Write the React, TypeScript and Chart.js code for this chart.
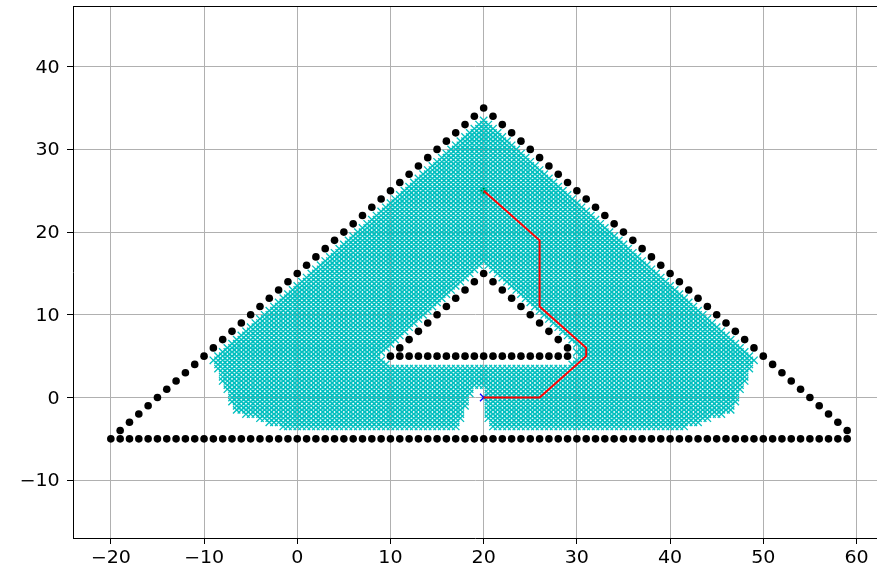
import { useEffect, useRef } from 'react';
import { Chart, registerables } from 'chart.js';

Chart.register(...registerables);

// ---- axis ----
const xTickValues = [-20, -10, 0, 10, 20, 30, 40, 50, 60];
const yTickValues = [-10, 0, 10, 20, 30, 40];
const xMin = -24.06;
const xMax = 62.2;
const yMin = -16.99;
const yMax = 47.34;

// ---- obstacles: straight runs of points at unit spacing [x0, y0, x1, y1] ----
const obstacleSegments = [
  [-20, -5, 59, -5],
  [-19, -4, 20, 35],
  [21, 34, 59, -4],
  [10, 5, 29, 5],
  [11, 6, 20, 15],
  [21, 14, 29, 6],
];
const obstacleStep = 1;

// ---- start / goal / path ----
const startX = [20];
const startY = [25];
const goalX = [20];
const goalY = [0];
const pathX = [20, 26, 31, 31, 26, 26, 20];
const pathY = [0, 0, 5, 6, 11, 19, 25];

// ---- explored (closed set) nodes: per row y, spans [xStart, xEnd, ...] on a 0.5 grid ----
const gridStep = 0.5;
const closedRowY = [
  33.5, 33, 32.5, 32, 31.5, 31, 30.5, 30, 29.5, 29, 28.5, 28, 27.5, 27, 26.5, 26,
  25.5, 25, 24.5, 24, 23.5, 23, 22.5, 22, 21.5, 21, 20.5, 20, 19.5, 19, 18.5, 18,
  17.5, 17, 16.5, 16, 15.5, 15, 14.5, 14, 13.5, 13, 12.5, 12, 11.5, 11, 10.5, 10,
  9.5, 9, 8.5, 8, 7.5, 7, 6.5, 6, 5.5, 5, 4.5, 4, 3.5, 3, 2.5, 2, 1.5, 1, 0.5, 0,
  -0.5, -1, -1.5, -2, -2.5, -3, -3.5,
];
const closedRowSpans = [
  [20, 20], [19.5, 20.5], [19, 21], [18.5, 21.5], [18, 22], [17.5, 22.5], [17, 23], [16.5, 23.5],
  [16, 24], [15.5, 24.5], [15, 25], [14.5, 25.5], [14, 26], [13.5, 26.5], [13, 27], [12.5, 27.5],
  [12, 28], [11.5, 28.5], [11, 29], [10.5, 29.5], [10, 30], [9.5, 30.5], [9, 31], [8.5, 31.5],
  [8, 32], [7.5, 32.5], [7, 33], [6.5, 33.5], [6, 34], [5.5, 34.5], [5, 35], [4.5, 35.5],
  [4, 36], [3.5, 36.5], [3, 37],
  [2.5, 19.5, 20.5, 37.5], [2, 19, 21, 38], [1.5, 18.5, 21.5, 38.5], [1, 18, 22, 39],
  [0.5, 17.5, 22.5, 39.5], [0, 17, 23, 40], [-0.5, 16.5, 23.5, 40.5], [-1, 16, 24, 41],
  [-1.5, 15.5, 24.5, 41.5], [-2, 15, 25, 42], [-2.5, 14.5, 25.5, 42.5], [-3, 14, 26, 43],
  [-3.5, 13.5, 26.5, 43.5], [-4, 13, 27, 44], [-4.5, 12.5, 27.5, 44.5], [-5, 12, 28, 45],
  [-5.5, 11.5, 28.5, 45.5], [-6, 11, 29, 46], [-6.5, 10.5, 29.5, 46.5], [-7, 10, 30, 47],
  [-7.5, 9.5, 30.5, 47.5], [-8, 9, 30, 48], [-8.5, 8.5, 30.5, 48.5], [-9, 9, 30, 49],
  [-8.5, 9.5, 29.5, 48.5],
  [-8.5, 48.5], [-8, 48], [-8, 48], [-8, 48], [-7.5, 47.5],
  [-7.5, 18.5, 20.5, 47.5], [-7, 18.5, 20.5, 47], [-7, 18, 20.5, 47], [-7, 18, 20.5, 47],
  [-6.5, 18, 20.5, 46.5], [-6.5, 17.5, 20.5, 46.5], [-5.5, 17.5, 20.5, 45.5],
  [-4, 17.5, 20.5, 44], [-3, 17, 21, 43], [-1.5, 17, 21, 41.5],
];

function buildObstacles() {
  const pts: { x: number; y: number }[] = [];
  for (const [x0, y0, x1, y1] of obstacleSegments) {
    const n = Math.round(Math.max(Math.abs(x1 - x0), Math.abs(y1 - y0)) / obstacleStep);
    const sx = n ? (x1 - x0) / n : 0;
    const sy = n ? (y1 - y0) / n : 0;
    for (let i = 0; i <= n; i++) pts.push({ x: x0 + sx * i, y: y0 + sy * i });
  }
  return pts;
}

function buildClosed() {
  const pts: { x: number; y: number }[] = [];
  closedRowY.forEach((y, r) => {
    const spans = closedRowSpans[r];
    for (let s = 0; s < spans.length; s += 2) {
      const a = spans[s];
      const b = spans[s + 1];
      const n = Math.round((b - a) / gridStep);
      for (let i = 0; i <= n; i++) pts.push({ x: a + i * gridStep, y });
    }
  });
  return pts;
}

const fmt = (v: number) => (v < 0 ? '\u2212' + Math.abs(v) : String(v));

const frameAndLabels = {
  id: 'frameAndLabels',
  afterDraw(chart: any) {
    const { ctx, chartArea } = chart;
    ctx.save();
    ctx.strokeStyle = '#000';
    ctx.lineWidth = 1;
    const t = Math.round(chartArea.top) + 0.5;
    ctx.beginPath();
    ctx.moveTo(chartArea.left, t);
    ctx.lineTo(chartArea.right, t);
    ctx.stroke();

    ctx.fillStyle = '#000';
    ctx.font = '13.9px "DejaVu Sans"';
    const xs = chart.scales.x;
    const ys = chart.scales.y;
    for (const v of xTickValues) {
      const px = xs.getPixelForValue(v);
      ctx.save();
      ctx.translate(px, 563);
      ctx.scale(1.37, 1.21);
      ctx.textAlign = 'center';
      ctx.textBaseline = 'alphabetic';
      ctx.fillText(fmt(v), 0, 0);
      ctx.restore();
    }
    for (const v of yTickValues) {
      const py = ys.getPixelForValue(v);
      ctx.save();
      ctx.translate(59.7, py + 6.1);
      ctx.scale(1.37, 1.21);
      ctx.textAlign = 'right';
      ctx.textBaseline = 'alphabetic';
      ctx.fillText(fmt(v), 0, 0);
      ctx.restore();
    }
    ctx.restore();
  },
};

export default function App() {
  const ref = useRef<HTMLCanvasElement | null>(null);

  useEffect(() => {
    if (!ref.current) return;
    const obstacles = buildObstacles();
    const closed = buildClosed();
    const path = pathX.map((x, i) => ({ x, y: pathY[i] }));
    const start = startX.map((x, i) => ({ x, y: startY[i] }));
    const goal = goalX.map((x, i) => ({ x, y: goalY[i] }));

    const gridCommon = {
      color: '#b0b0b0',
      lineWidth: 1,
      drawTicks: true,
      tickLength: 6,
      tickColor: '#000',
      tickWidth: 1,
    };

    const chart = new Chart(ref.current, {
      type: 'scatter',
      data: {
        datasets: [
          {
            type: 'line',
            data: path,
            borderColor: '#ff0000',
            borderWidth: 2,
            pointRadius: 0,
            fill: false,
            tension: 0,
            order: 0,
          } as any,
          {
            data: closed,
            pointStyle: 'crossRot',
            pointRadius: 5.2,
            borderColor: '#00bfbf',
            backgroundColor: '#00bfbf',
            pointBorderWidth: 1.3,
            order: 1,
          } as any,
          {
            data: goal,
            pointStyle: 'crossRot',
            pointRadius: 5.2,
            borderColor: '#0000ff',
            pointBorderWidth: 1.3,
            order: 2,
          } as any,
          {
            data: start,
            pointStyle: 'circle',
            pointRadius: 4,
            backgroundColor: '#008000',
            borderColor: '#008000',
            pointBorderWidth: 0,
            order: 2,
          } as any,
          {
            data: obstacles,
            pointStyle: 'circle',
            pointRadius: 3.8,
            backgroundColor: '#000',
            borderColor: '#000',
            pointBorderWidth: 0,
            order: 3,
          } as any,
        ],
      },
      options: {
        animation: false,
        responsive: false,
        maintainAspectRatio: false,
        devicePixelRatio: 1,
        events: [],
        layout: { autoPadding: false, padding: { top: 6, left: 0, right: 0, bottom: 0 } },
        plugins: {
          legend: { display: false },
          tooltip: { enabled: false },
          title: { display: false },
        },
        scales: {
          x: {
            type: 'linear',
            min: xMin,
            max: xMax,
            grid: gridCommon,
            border: { display: true, color: '#000', width: 1 },
            ticks: { display: false },
            afterBuildTicks: (s: any) => {
              s.ticks = xTickValues.map((v) => ({ value: v }));
            },
            afterFit: (s: any) => {
              s.height = 42;
            },
          },
          y: {
            type: 'linear',
            min: yMin,
            max: yMax,
            grid: gridCommon,
            border: { display: true, color: '#000', width: 1 },
            ticks: { display: false },
            afterBuildTicks: (s: any) => {
              s.ticks = yTickValues.map((v) => ({ value: v }));
            },
            afterFit: (s: any) => {
              s.width = 73;
            },
          },
        },
      } as any,
      plugins: [frameAndLabels],
    });
    return () => chart.destroy();
  }, []);

  return (
    <div style={{ position: 'fixed', left: 0, top: 0, width: 877, height: 580, background: '#fff' }}>
      <canvas ref={ref} width={877} height={580} style={{ width: 877, height: 580, display: 'block' }} />
    </div>
  );
}
